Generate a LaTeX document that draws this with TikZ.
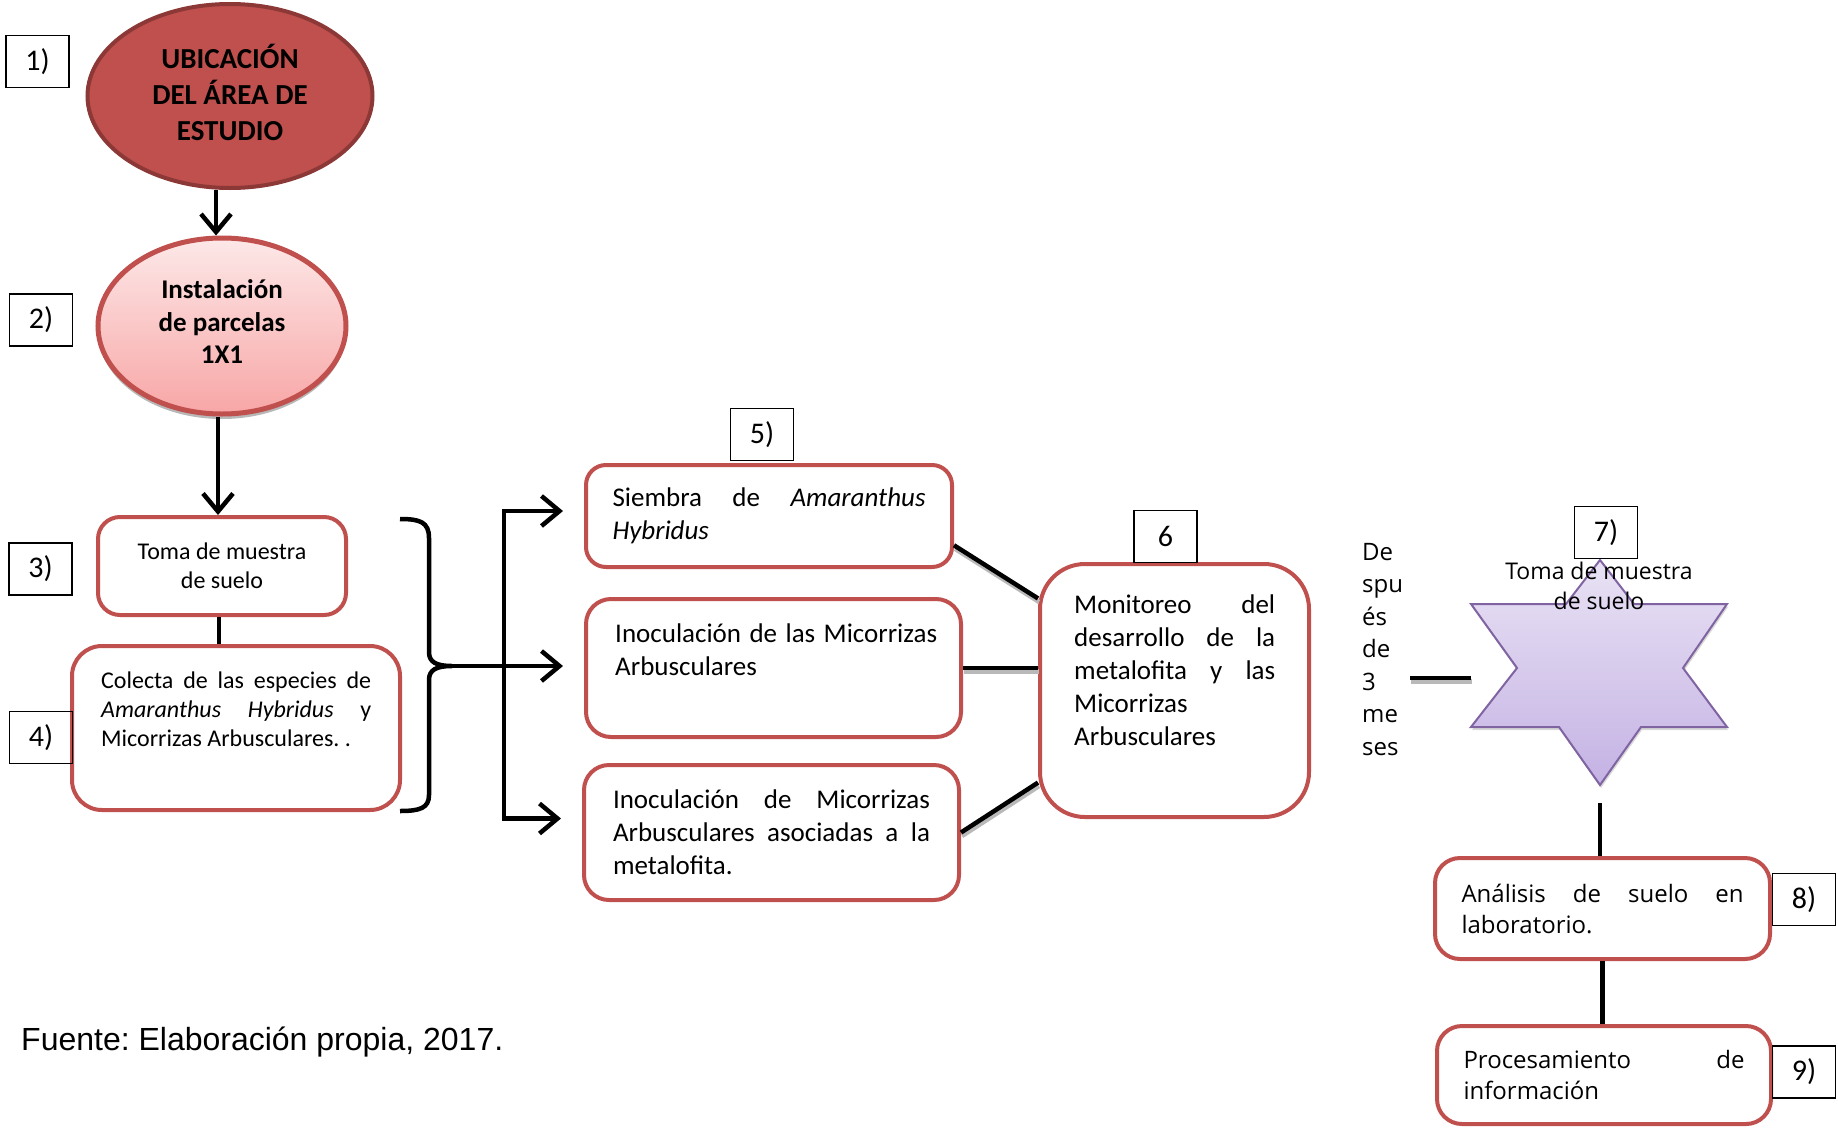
\documentclass[tikz,border=0pt]{standalone}
\usepackage{fontspec}
\setmainfont{Carlito}
\newfontfamily\opensans{Open Sans}
\newfontfamily\arialfont{Liberation Sans}
\usetikzlibrary{arrows.meta, calc, positioning, shapes.geometric, shadows}
\definecolor{boxred}{RGB}{192,80,77}
\definecolor{darkred}{RGB}{140,56,54}
\definecolor{pinktop}{RGB}{253,232,232}
\definecolor{pinkbot}{RGB}{248,166,166}
\definecolor{lilactop}{RGB}{233,226,244}
\definecolor{lilacbot}{RGB}{196,178,228}
\definecolor{lilacline}{RGB}{128,100,162}
\frenchspacing

\begin{document}
\begin{tikzpicture}[x=1pt, y=-1pt,
    arr/.style={line width=4.5pt, -{Straight Barb[length=18pt, width=30pt]}},
    link/.style={line width=4.5pt, preaction={draw=gray!55, line width=4.5pt, transform canvas={xshift=1pt, yshift=-3.5pt}}},
    stepbox/.style={draw=boxred, line width=4pt, rounded corners=22pt, fill=white},
    numbox/.style={draw, line width=1.3pt, minimum width=63pt, minimum height=52pt, inner sep=0pt, font=\fontsize{30}{34}\selectfont},
    txt/.style={inner sep=0pt, align=justify, font=\fontsize{27}{33}\selectfont},
    smalltxt/.style={inner sep=0pt, align=justify, font=\fontsize{24}{29}\selectfont},
    sanstxt/.style={inner sep=0pt, align=justify, font=\opensans\fontsize{24}{31}\selectfont}]
    \useasboundingbox (0,0) rectangle (1838,1127);

    % Left column
    \node[ellipse, draw=darkred, line width=4pt, fill=boxred, minimum width=285pt, minimum height=184pt, inner sep=0pt, align=center, font=\bfseries\fontsize{29}{36}\selectfont] (ubic) at (230,96) {UBICACIÓN\\DEL ÁREA DE\\ESTUDIO\\[-28pt]\mbox{}};
    \node[ellipse, draw=boxred, line width=5pt, top color=pinktop, bottom color=pinkbot, drop shadow={shadow xshift=0pt, shadow yshift=-5pt, fill=gray!70, opacity=0.8}, minimum width=248pt, minimum height=176pt, inner sep=0pt, align=center, font=\bfseries\fontsize{27}{32.5}\selectfont] (inst) at (222,326) {Instalación\\de parcelas\\1X1\\[-24.5pt]\mbox{}};
    \node[stepbox, smalltxt, align=center, minimum width=248pt, minimum height=98pt] (toma) at (222,566) {Toma de muestra\\de suelo};
    \node[stepbox, rounded corners=30pt, minimum width=328pt, minimum height=164pt] (colecta) at (236,728) {};
    \node[smalltxt, text width=270pt, anchor=base west] (colectaT) at (101,688) {Colecta de las especies de\linebreak \textit{Amaranthus Hybridus} y\linebreak Micorrizas Arbusculares.~.};

    \node[numbox] (n1) at (37.5,61.5) {1)};
    \node[numbox] (n2) at (41,320) {2)};
    \node[numbox] (n3) at (40.5,569) {3)};
    \node[numbox] (n4) at (41,737.5) {4)};

    \draw[arr] ([xshift=-6pt]inst.north |- ubic.south) -- ([xshift=-6pt]inst.north);
    \draw[arr] ([xshift=-4pt]inst.south) -- ([xshift=-4pt]toma.north);
    \draw[line width=4.5pt] ([xshift=-3pt]toma.south) -- ([xshift=-3pt]toma.south |- colecta.north);

    % Bracket and branching arrows
    \draw[line width=4.5pt] (400,519) .. controls (420,519) and (429,522) .. (429,538) -- (429,652)
        .. controls (429,662) and (436,666) .. (452,666)
        .. controls (436,666) and (429,670) .. (429,680) -- (429,795)
        .. controls (429,808) and (420,811) .. (400,811);
    \coordinate (brk) at (452,666);
    \coordinate (trunk) at (504,666);

    % Middle column
    \node[stepbox, txt, rounded corners=20pt, minimum width=366pt, minimum height=102pt, text width=313pt] (siembra) at (769,516) {Siembra de \textit{Amaranthus}\linebreak \textit{Hybridus}};
    \node[stepbox, rounded corners=25pt, minimum width=375pt, minimum height=138pt] (inoc1) at (773.5,668) {};
    \node[txt, text width=322pt, anchor=base west] (inoc1T) at (615,642) {Inoculación de las Micorrizas\linebreak Arbusculares};
    \node[stepbox, txt, rounded corners=25pt, minimum width=375pt, minimum height=135pt, text width=317pt] (inoc2) at (771.5,832.5) {Inoculación de Micorrizas\linebreak Arbusculares asociadas a la\linebreak metalofita.};
    \node[numbox] (n5) at (762,434.5) {5)};

    \draw[arr, shorten >=21pt] (brk) -- (brk -| inoc1.west);
    \draw[arr, shorten >=21pt] (trunk) |- ([yshift=5pt]siembra.west);
    \draw[arr, shorten >=21pt] (trunk) |- ([yshift=14pt]inoc2.west);

    % Monitoring
    \node[stepbox, rounded corners=45pt, minimum width=269pt, minimum height=253pt] (mon) at (1174.5,690.5) {};
    \node[txt, text width=201pt, anchor=base west] (monT) at (1074,613) {Monitoreo del\linebreak desarrollo de la\linebreak metalofita y las\linebreak Micorrizas\\Arbusculares};
    \node[numbox] (n6) at (1165.5,536.5) {6};

    \draw[link] (siembra.-9) -- (mon.146);
    \draw[link] (inoc1.east) -- (inoc1.east -| mon.west);
    \draw[link] (inoc2.east) -- (mon.214);

    % Right column
    \node[inner sep=0pt, text width=60pt, align=left, anchor=base west, font=\opensans\fontsize{24}{32.5}\selectfont] (despues) at (1362,560) {De\\spu\\és\\de\\3\\me\\ses};
    \coordinate (dashL) at (1410,678);
    \coordinate (dashR) at (1471,678);
    \draw[link] (dashL) -- (dashR);

    \draw[draw=lilacline, line width=2pt, top color=lilactop, bottom color=lilacbot, drop shadow={shadow xshift=1pt, shadow yshift=-3pt, fill=gray!60}]
        (1600,560) -- (1634,604) -- (1727,604) -- (1683,668) -- (1727,727) -- (1641,727)
        -- (1600,785) -- (1559,727) -- (1471,727) -- (1517,668) -- (1471,604) -- (1566,604) -- cycle;
    \node[align=center, inner sep=0pt, font=\opensans\fontsize{23}{30}\selectfont] (starT) at (1599,586) {Toma de muestra\\de suelo};
    \node[numbox] (n7) at (1606,532.5) {7)};
    \coordinate (starfoot) at (1600,803);

    \node[stepbox, sanstxt, rounded corners=25pt, minimum width=335pt, minimum height=101pt, text width=282pt] (analisis) at (1602.5,908.5) {Análisis de suelo en\linebreak laboratorio.};
    \node[stepbox, sanstxt, rounded corners=25pt, minimum width=334pt, minimum height=98pt, text width=281pt] (proc) at (1604,1075) {Procesamiento de\linebreak información};
    \node[numbox] (n8) at (1804,899.5) {8)};
    \node[numbox] (n9) at (1804,1072) {9)};

    \draw[line width=4.5pt] (starfoot) -- (starfoot |- analisis.north);
    \draw[line width=4.5pt] (analisis.south) -- (analisis.south |- proc.north);

    % Source
    \node[anchor=west, inner sep=0pt, font=\arialfont\fontsize{32}{38}\selectfont] (fuente) at (21,1042) {Fuente: Elaboración propia, 2017.};
\end{tikzpicture}
\end{document}
